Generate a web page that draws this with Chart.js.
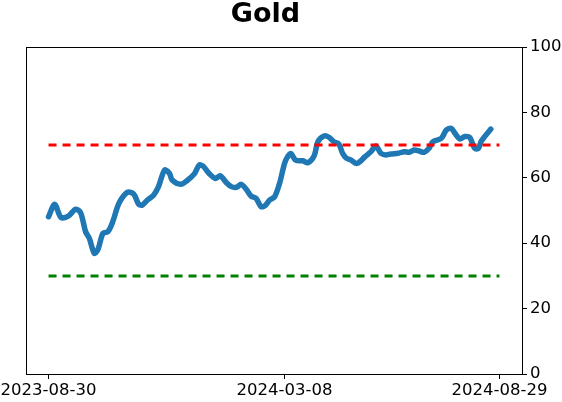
<!DOCTYPE html>
<html>
<head>
<meta charset="utf-8">
<script src="https://cdn.jsdelivr.net/npm/chart.js@4/dist/chart.umd.min.js"></script>
<style>
  html, body { margin: 0; padding: 0; background: #fff; }
  canvas { display: block; }
</style>
</head>
<body>
<canvas id="chart" width="562" height="402"></canvas>
<script>
// days since 2023-08-30 and the indicator reading on that day
const dayOffsets = [
    0, 5, 10, 16, 22, 26, 30, 33, 37, 40,
    44, 48, 52, 57, 64, 69, 73, 76, 80, 85,
    89, 94, 98, 100, 107, 112, 118, 122, 125, 130,
    135, 139, 144, 148, 152, 156, 160, 164, 168, 172,
    175, 179, 183, 187, 190, 192, 196, 200, 206, 210,
    215, 218, 223, 227, 231, 235, 238, 241, 245, 249,
    252, 256, 261, 265, 269, 273, 277, 283, 288, 292,
    296, 300, 304, 308, 311, 318, 322, 326, 329, 333,
    337, 341, 345, 348, 350, 353, 358
];
const goldValues = [
    48.1, 51.9, 47.9, 48.3, 50.4, 49.3, 43.5, 41.5, 36.9, 38.1,
    43.0, 43.5, 46.6, 52.2, 55.6, 55.0, 51.9, 51.7, 53.2, 54.7,
    57.3, 62.4, 61.3, 59.3, 58.0, 59.1, 61.2, 63.9, 63.6, 61.3,
    59.8, 60.6, 58.5, 57.3, 57.1, 58.0, 56.5, 54.4, 53.7, 51.2,
    51.4, 53.2, 54.2, 58.3, 62.9, 65.4, 67.4, 65.4, 65.2, 64.6,
    66.7, 71.0, 72.8, 72.4, 71.0, 70.3, 67.5, 66.0, 65.4, 64.4,
    64.9, 66.4, 68.0, 69.7, 67.5, 67.0, 67.3, 67.5, 68.0, 67.8,
    68.5, 68.2, 67.8, 69.0, 71.0, 72.1, 74.6, 75.1, 73.6, 71.9,
    72.6, 72.3, 69.0, 69.0, 71.0, 72.6, 74.9
];

const tickDays = [0, 191, 365];
const tickLabels = ["2023-08-30", "2024-03-08", "2024-08-29"];
const yTicks = [0, 20, 40, 60, 80, 100];

const upperLevel = 70;
const lowerLevel = 30;
const spanDays = [0, 365];

const titleText = "Gold";
const font = "'DejaVu Sans', sans-serif";

// matplotlib-style full box around the plot, plus the title above it
const frame = {
    id: "frame",
    afterDraw(chart) {
        const a = chart.chartArea;
        const ctx = chart.ctx;
        ctx.save();
        ctx.strokeStyle = "#000";
        ctx.lineWidth = 1;
        ctx.strokeRect(Math.round(a.left) + 0.5, Math.round(a.top) + 0.5,
            Math.round(a.right - a.left), Math.round(a.bottom - a.top));
        ctx.fillStyle = "#000";
        ctx.font = "bold 27px " + font;
        ctx.textAlign = "center";
        ctx.textBaseline = "alphabetic";
        ctx.fillText(titleText, 265.5, 22);
        ctx.restore();
    }
};

const ctx = document.getElementById("chart").getContext("2d");
new Chart(ctx, {
    type: "line",
    data: {
        datasets: [
            {
                data: spanDays.map(d => ({ x: d, y: upperLevel })),
                borderColor: "#ff0000",
                borderWidth: 3,
                borderDash: [8, 6],
                pointRadius: 0,
            },
            {
                data: spanDays.map(d => ({ x: d, y: lowerLevel })),
                borderColor: "#008000",
                borderWidth: 3,
                borderDash: [8, 6],
                pointRadius: 0,
            },
            {
                data: dayOffsets.map((d, i) => ({ x: d, y: goldValues[i] })),
                borderColor: "#1f77b4",
                borderWidth: 5.5,
                borderCapStyle: "round",
                borderJoinStyle: "round",
                pointRadius: 0,
                tension: 0.3,
            },
        ]
    },
    options: {
        responsive: false,
        devicePixelRatio: 1,
        animation: false,
        layout: {
            padding: { left: 26, right: 0, top: 47, bottom: 0 }
        },
        plugins: {
            legend: { display: false },
            tooltip: { enabled: false },
            title: { display: false }
        },
        scales: {
            x: {
                type: "linear",
                min: -18.25,
                max: 383.25,
                afterBuildTicks: s => { s.ticks = tickDays.map(v => ({ value: v })); },
                afterFit: s => { s.height = 28; s.paddingLeft = 0; s.paddingRight = 0; },
                grid: { drawOnChartArea: false, drawTicks: true, tickLength: 5, color: "#000" },
                border: { display: true, color: "#000" },
                ticks: {
                    autoSkip: false,
                    maxRotation: 0,
                    padding: 2,
                    color: "#000",
                    font: { family: font, size: 16.5 },
                    callback: (v, i) => tickLabels[i]
                }
            },
            y: {
                position: "right",
                min: 0,
                max: 100,
                afterBuildTicks: s => { s.ticks = yTicks.map(v => ({ value: v })); },
                afterFit: s => { s.width = 40; s.paddingTop = 0; s.paddingBottom = 0; },
                grid: { drawOnChartArea: false, drawTicks: true, tickLength: 5, color: "#000" },
                border: { display: true, color: "#000" },
                ticks: {
                    padding: 3,
                    color: "#000",
                    font: { family: font, size: 16.5 }
                }
            }
        }
    },
    plugins: [frame]
});
</script>
</body>
</html>
